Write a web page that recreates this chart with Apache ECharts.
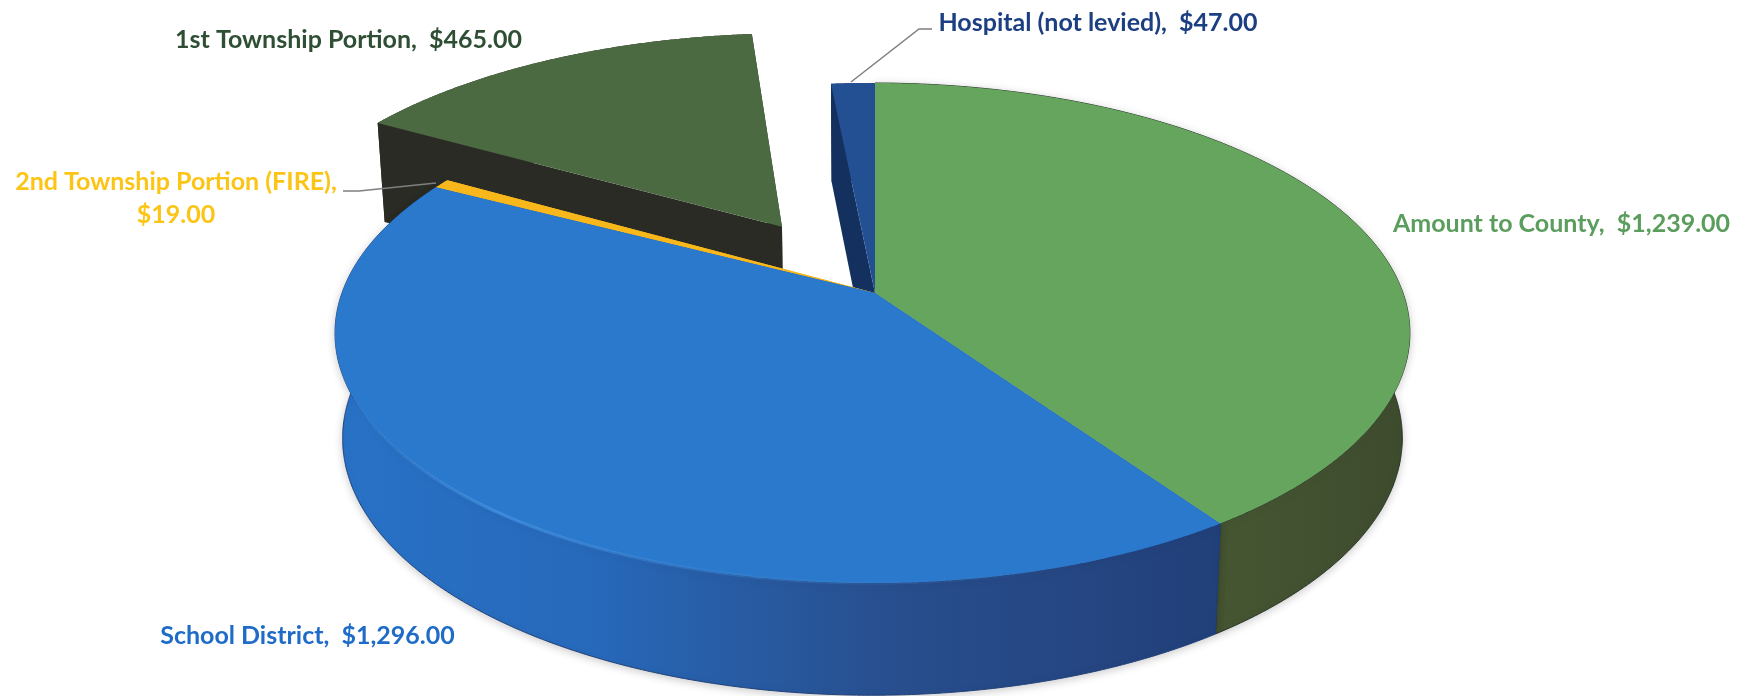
<!DOCTYPE html>
<html><head><meta charset="utf-8">
<style>html,body{margin:0;padding:0;background:#fff}#c{width:1750px;height:696px}</style>
<script src="https://cdn.jsdelivr.net/npm/echarts@6/dist/echarts.min.js"></script>
</head><body><div id="c"></div>
<script>
// ---- data, clockwise from 12 o'clock
const categories = ['Amount to County', 'School District', '2nd Township Portion (FIRE)', '1st Township Portion', 'Hospital (not levied)'];
const values = [1239, 1296, 19, 465, 47];
const labelTexts = ['Amount to County,  $1,239.00', 'School District,  $1,296.00', '2nd Township Portion (FIRE),\n$19.00', '1st Township Portion,  $465.00', 'Hospital (not levied),  $47.00'];
// ---- styling
const explode = [0, 0, 0, 0.338, 0];
const topColors = ['#65a55d', '#2a79cd', '#f8b81c', '#4c6a42', '#234f93'];
const radialColors = ['#3f4f2e', '#234a88', '#f8b81c', '#2b2b25', '#13305f'];
const labelColors = ['#5a9d5c', '#1f6cc8', '#fcc516', '#2f4f35', '#1c3f82'];
const labelAnchors = [[1561.5, 224], [307.5, 636], [176, 182], [348.5, 40], [1098, 23]];
const leaders = [null, null, [[343, 191], [359, 191], [436, 183]], null, [[932, 29], [919, 29], [851, 82]]];
const paintOrder = [3, 4, 2, 0, 1];
// ---- projection of the tilted disc
const CX = 875, P = 0.16, Q = 0.0047;
const TOP = {R: 530.5, K: 243.6, cy: 293};
const BOT = {R: 523, K: 250.5, cy: 397};
const total = values.reduce((a, b) => a + b, 0);
const starts = [];
values.reduce((acc, v, i) => { starts[i] = acc; return acc + v; }, 0);
const rad = v => v / total * 2 * Math.PI;
function project(X, Y, plane) {
  const w = 1 + P * Y + Q * X;
  return [CX + plane.R * X / w, plane.cy - plane.K * Y / w];
}
function offset(i) {
  const m = rad(starts[i] + values[i] / 2);
  return [explode[i] * Math.sin(m), explode[i] * Math.cos(m)];
}
function arcPoints(i, plane) {
  const a0 = rad(starts[i]), a1 = rad(starts[i] + values[i]);
  const o = offset(i), n = Math.max(2, Math.ceil((a1 - a0) / 0.004)), pts = [];
  for (let k = 0; k <= n; k++) {
    const a = a0 + (a1 - a0) * k / n;
    pts.push(project(o[0] + Math.sin(a), o[1] + Math.cos(a), plane));
  }
  return pts;
}
function apex(i, plane) { const o = offset(i); return project(o[0], o[1], plane); }
const grad = (x0, x1, stops) => new echarts.graphic.LinearGradient(x0, 0, x1, 0, stops, true);
const outerFill = [
  grad(1210, 1410, [{offset: 0, color: '#465632'}, {offset: 1, color: '#3e4c2e'}]),
  grad(340, 1215, [{offset: 0, color: '#2872c6'}, {offset: 0.3, color: '#2768ba'}, {offset: 0.41, color: '#285fa9'}, {offset: 0.64, color: '#284e8d'}, {offset: 1, color: '#22407a'}]),
  '#f8b81c', '#2b2b25', '#13305f'
];
const outerEdge = ['#26332a', '#1e3f78'];
function renderSide(params) {
  const i = paintOrder[params.dataIndex];
  const t = arcPoints(i, TOP), b = arcPoints(i, BOT);
  const at = apex(i, TOP), ab = apex(i, BOT);
  const tl = t[t.length - 1], bl = b[b.length - 1];
  const children = [];
  children.push({type: 'polygon', shape: {points: [at, t[0], b[0], ab]}, style: {fill: radialColors[i]}});
  children.push({type: 'polygon', shape: {points: [at, tl, bl, ab]}, style: {fill: radialColors[i]}});
  const extra = i < 2 ? {shadowColor: 'rgba(0,0,0,0.2)', shadowBlur: 9, shadowOffsetY: 2, stroke: outerEdge[i], lineWidth: 1} : {};
  children.push({type: 'polygon', shape: {points: t.concat(b.slice().reverse())}, style: Object.assign({fill: outerFill[i]}, extra)});
  return {type: 'group', children};
}
function renderTop(params) {
  const i = paintOrder[params.dataIndex];
  const t = arcPoints(i, TOP);
  const children = [{type: 'polygon', shape: {points: [apex(i, TOP)].concat(t)}, style: {fill: topColors[i]}}];
  if (i === 1) {
    children.push({type: 'polyline', shape: {points: t.filter(p => p[1] > 330)}, style: {fill: null, lineWidth: 3,
      stroke: grad(340, 1100, [{offset: 0, color: 'rgba(70,150,230,0)'}, {offset: 0.2, color: 'rgba(70,150,230,0.7)'}, {offset: 0.45, color: 'rgba(60,135,215,0.5)'}, {offset: 1, color: 'rgba(60,120,190,0)'}])}});
  }
  return {type: 'group', children};
}
function renderLabel(params) {
  const i = params.dataIndex;
  const children = [];
  if (leaders[i]) children.push({type: 'polyline', shape: {points: leaders[i]}, style: {fill: null, stroke: '#7f7f7f', lineWidth: 1.5}});
  const lines = labelTexts[i].split('\n');
  lines.forEach((s, k) => children.push({type: 'text', style: {text: s, x: labelAnchors[i][0], y: labelAnchors[i][1] + k * 33,
    font: 'bold 25px Lato', fill: labelColors[i], textAlign: 'center', textVerticalAlign: 'middle'}}));
  return {type: 'group', children};
}
const chart = echarts.init(document.getElementById('c'), null, {renderer: 'canvas'});
const paintData = paintOrder.map(i => ({name: categories[i], value: values[i]}));
chart.setOption({
  animation: false,
  backgroundColor: '#ffffff',
  series: [
    {type: 'custom', name: 'sides', coordinateSystem: 'none', z: 1, silent: true, renderItem: renderSide, data: paintData},
    {type: 'custom', name: 'tops', coordinateSystem: 'none', z: 2, silent: true, renderItem: renderTop, data: paintData},
    {type: 'custom', name: 'labels', coordinateSystem: 'none', z: 3, silent: true, renderItem: renderLabel, data: categories.map((c, i) => ({name: c, value: values[i]}))}
  ]
});
</script></body></html>
